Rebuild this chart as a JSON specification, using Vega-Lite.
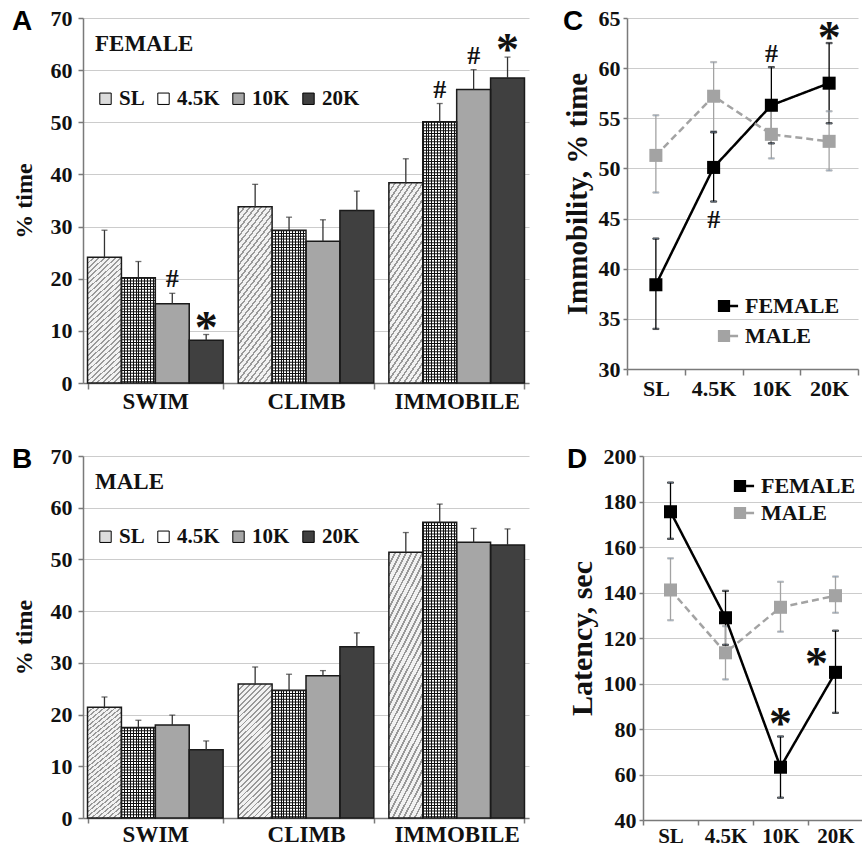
{
  "$schema": "https://vega.github.io/schema/vega-lite/v6.json",
  "background": "#ffffff",
  "padding": {"left": 12, "top": 7, "right": 0, "bottom": 0},
  "config": {
    "font": "Liberation Serif",
    "view": {"stroke": null},
    "axis": {"domainColor": "#7a7a7a", "domainWidth": 1.5, "tickColor": "#7a7a7a", "tickWidth": 1.5, "gridColor": "#cccccc", "gridWidth": 1.2, "labelFont": "Liberation Serif", "labelFontWeight": "bold", "labelColor": "#111111", "labelFontSize": 22, "titleFont": "Liberation Serif", "titleFontWeight": "bold", "titleColor": "#111111", "titleFontSize": 24},
    "legend": {"labelFont": "Liberation Serif", "labelFontWeight": "bold", "labelColor": "#111111", "labelFontSize": 21, "titleFont": "Liberation Serif", "titleFontWeight": "bold", "titleColor": "#111111", "titleFontSize": 23},
    "title": {"font": "Liberation Sans", "fontSize": 28, "fontWeight": "bold", "color": "#000000", "anchor": "start", "frame": "bounds", "baseline": "top", "offset": -29}
  },
  "datasets": {
    "bars": [
      {"sex": "FEMALE", "behavior": "SWIM", "dose": "SL", "value": 24.1, "err": 29.3, "sig": ""},
      {"sex": "FEMALE", "behavior": "SWIM", "dose": "4.5K", "value": 20.2, "err": 23.3, "sig": ""},
      {"sex": "FEMALE", "behavior": "SWIM", "dose": "10K", "value": 15.2, "err": 17.2, "sig": "#"},
      {"sex": "FEMALE", "behavior": "SWIM", "dose": "20K", "value": 8.2, "err": 9.3, "sig": "*"},
      {"sex": "FEMALE", "behavior": "CLIMB", "dose": "SL", "value": 33.8, "err": 38.1, "sig": ""},
      {"sex": "FEMALE", "behavior": "CLIMB", "dose": "4.5K", "value": 29.3, "err": 31.8, "sig": ""},
      {"sex": "FEMALE", "behavior": "CLIMB", "dose": "10K", "value": 27.2, "err": 31.3, "sig": ""},
      {"sex": "FEMALE", "behavior": "CLIMB", "dose": "20K", "value": 33.1, "err": 36.8, "sig": ""},
      {"sex": "FEMALE", "behavior": "IMMOBILE", "dose": "SL", "value": 38.4, "err": 43.0, "sig": ""},
      {"sex": "FEMALE", "behavior": "IMMOBILE", "dose": "4.5K", "value": 50.1, "err": 53.6, "sig": "#"},
      {"sex": "FEMALE", "behavior": "IMMOBILE", "dose": "10K", "value": 56.3, "err": 60.1, "sig": "#"},
      {"sex": "FEMALE", "behavior": "IMMOBILE", "dose": "20K", "value": 58.5, "err": 62.5, "sig": "*"},
      {"sex": "MALE", "behavior": "SWIM", "dose": "SL", "value": 21.4, "err": 23.4, "sig": ""},
      {"sex": "MALE", "behavior": "SWIM", "dose": "4.5K", "value": 17.5, "err": 18.9, "sig": ""},
      {"sex": "MALE", "behavior": "SWIM", "dose": "10K", "value": 18.0, "err": 19.9, "sig": ""},
      {"sex": "MALE", "behavior": "SWIM", "dose": "20K", "value": 13.2, "err": 14.9, "sig": ""},
      {"sex": "MALE", "behavior": "CLIMB", "dose": "SL", "value": 25.9, "err": 29.2, "sig": ""},
      {"sex": "MALE", "behavior": "CLIMB", "dose": "4.5K", "value": 24.7, "err": 27.8, "sig": ""},
      {"sex": "MALE", "behavior": "CLIMB", "dose": "10K", "value": 27.5, "err": 28.5, "sig": ""},
      {"sex": "MALE", "behavior": "CLIMB", "dose": "20K", "value": 33.1, "err": 35.8, "sig": ""},
      {"sex": "MALE", "behavior": "IMMOBILE", "dose": "SL", "value": 51.4, "err": 55.2, "sig": ""},
      {"sex": "MALE", "behavior": "IMMOBILE", "dose": "4.5K", "value": 57.2, "err": 60.7, "sig": ""},
      {"sex": "MALE", "behavior": "IMMOBILE", "dose": "10K", "value": 53.3, "err": 56.0, "sig": ""},
      {"sex": "MALE", "behavior": "IMMOBILE", "dose": "20K", "value": 52.8, "err": 55.9, "sig": ""}
    ],
    "lines": [
      {"panel": "C", "sex": "FEMALE", "dose": "SL", "value": 38.4, "lo": 34.0, "hi": 43.0, "sigAbove": "", "sigBelow": "", "sigLeft": ""},
      {"panel": "C", "sex": "FEMALE", "dose": "4.5K", "value": 50.1, "lo": 46.7, "hi": 53.6, "sigAbove": "", "sigBelow": "#", "sigLeft": ""},
      {"panel": "C", "sex": "FEMALE", "dose": "10K", "value": 56.3, "lo": 52.5, "hi": 60.1, "sigAbove": "#", "sigBelow": "", "sigLeft": ""},
      {"panel": "C", "sex": "FEMALE", "dose": "20K", "value": 58.5, "lo": 54.5, "hi": 62.5, "sigAbove": "*", "sigBelow": "", "sigLeft": ""},
      {"panel": "C", "sex": "MALE", "dose": "SL", "value": 51.3, "lo": 47.6, "hi": 55.3, "sigAbove": "", "sigBelow": "", "sigLeft": ""},
      {"panel": "C", "sex": "MALE", "dose": "4.5K", "value": 57.2, "lo": 53.7, "hi": 60.6, "sigAbove": "", "sigBelow": "", "sigLeft": ""},
      {"panel": "C", "sex": "MALE", "dose": "10K", "value": 53.4, "lo": 51.0, "hi": 55.8, "sigAbove": "", "sigBelow": "", "sigLeft": ""},
      {"panel": "C", "sex": "MALE", "dose": "20K", "value": 52.7, "lo": 49.8, "hi": 55.7, "sigAbove": "", "sigBelow": "", "sigLeft": ""},
      {"panel": "D", "sex": "FEMALE", "dose": "SL", "value": 175.5, "lo": 163.6, "hi": 188.3, "sigAbove": "", "sigBelow": "", "sigLeft": ""},
      {"panel": "D", "sex": "FEMALE", "dose": "4.5K", "value": 128.9, "lo": 117.0, "hi": 140.7, "sigAbove": "", "sigBelow": "", "sigLeft": ""},
      {"panel": "D", "sex": "FEMALE", "dose": "10K", "value": 63.2, "lo": 49.8, "hi": 76.7, "sigAbove": "*", "sigBelow": "", "sigLeft": ""},
      {"panel": "D", "sex": "FEMALE", "dose": "20K", "value": 104.9, "lo": 87.1, "hi": 123.2, "sigAbove": "", "sigBelow": "", "sigLeft": "*"},
      {"panel": "D", "sex": "MALE", "dose": "SL", "value": 141.1, "lo": 127.8, "hi": 155.0, "sigAbove": "", "sigBelow": "", "sigLeft": ""},
      {"panel": "D", "sex": "MALE", "dose": "4.5K", "value": 113.5, "lo": 101.8, "hi": 125.2, "sigAbove": "", "sigBelow": "", "sigLeft": ""},
      {"panel": "D", "sex": "MALE", "dose": "10K", "value": 133.5, "lo": 122.8, "hi": 144.7, "sigAbove": "", "sigBelow": "", "sigLeft": ""},
      {"panel": "D", "sex": "MALE", "dose": "20K", "value": 138.6, "lo": 131.1, "hi": 147.0, "sigAbove": "", "sigBelow": "", "sigLeft": ""}
    ]
  },
  "spacing": 32,
  "resolve": {"scale": {"color": "independent", "fill": "independent", "stroke": "independent", "strokeDash": "independent"}, "legend": {"color": "independent", "fill": "independent"}},
  "vconcat": [
    {
      "spacing": 34,
      "resolve": {"scale": {"color": "independent", "fill": "independent", "stroke": "independent", "strokeDash": "independent"}, "legend": {"color": "independent", "fill": "independent"}},
      "hconcat": [
        {
          "width": 446, "height": 365,
          "title": {"text": "A"},
          "data": {"name": "bars"},
          "transform": [{"filter": "datum.sex === 'FEMALE'"}],
          "encoding": {
            "x": {"field": "behavior", "type": "nominal", "sort": ["SWIM", "CLIMB", "IMMOBILE"], "scale": {"paddingInner": 0.1, "paddingOuter": 0.03}, "axis": {"title": null, "labelAngle": 0, "labelFontSize": 23, "tickBand": "extent", "tickSize": 6, "labelPadding": 1, "grid": false}},
            "xOffset": {"field": "dose", "type": "nominal", "sort": ["SL", "4.5K", "10K", "20K"], "scale": {"paddingInner": 0, "paddingOuter": 0}}
          },
          "layer": [
            {"mark": {"type": "bar"}, "encoding": {
              "y": {"field": "value", "type": "quantitative", "scale": {"domain": [0, 70], "nice": false}, "axis": {"title": "% time", "values": [0, 10, 20, 30, 40, 50, 60, 70], "tickSize": 5, "labelPadding": 6, "titlePadding": 14, "grid": true}},
              "fill": {"field": "dose", "type": "nominal", "sort": ["SL", "4.5K", "10K", "20K"], "scale": {"domain": ["SL", "4.5K", "10K", "20K"], "range": ["#dcdcdc", "#ffffff", "#a6a6a6", "#404040"]},
                "legend": {"title": "FEMALE", "orient": "none", "legendX": 12, "legendY": 15, "direction": "horizontal", "titlePadding": 32, "symbolType": "square", "symbolSize": 130, "symbolStrokeColor": "#000000", "symbolStrokeWidth": 1, "labelOffset": 3, "columnPadding": 8}}
            }},
            {"transform": [{"filter": "datum.dose === 'SL'"}], "mark": {"type": "bar", "fill": {"gradient": "linear", "x1": 0, "y1": 0, "x2": 0.3, "y2": 1.2, "stops": [
        {"offset": 0, "color": "#999999"}, {"offset": 0.011, "color": "#999999"}, {"offset": 0.011, "color": "#f2f2f2"}, {"offset": 0.032, "color": "#f2f2f2"},
        {"offset": 0.032, "color": "#999999"}, {"offset": 0.043, "color": "#999999"}, {"offset": 0.043, "color": "#f2f2f2"}, {"offset": 0.064, "color": "#f2f2f2"},
        {"offset": 0.064, "color": "#999999"}, {"offset": 0.075, "color": "#999999"}, {"offset": 0.075, "color": "#f2f2f2"}, {"offset": 0.096, "color": "#f2f2f2"},
        {"offset": 0.096, "color": "#999999"}, {"offset": 0.107, "color": "#999999"}, {"offset": 0.107, "color": "#f2f2f2"}, {"offset": 0.128, "color": "#f2f2f2"},
        {"offset": 0.128, "color": "#999999"}, {"offset": 0.139, "color": "#999999"}, {"offset": 0.139, "color": "#f2f2f2"}, {"offset": 0.16, "color": "#f2f2f2"},
        {"offset": 0.16, "color": "#999999"}, {"offset": 0.171, "color": "#999999"}, {"offset": 0.171, "color": "#f2f2f2"}, {"offset": 0.192, "color": "#f2f2f2"},
        {"offset": 0.192, "color": "#999999"}, {"offset": 0.203, "color": "#999999"}, {"offset": 0.203, "color": "#f2f2f2"}, {"offset": 0.224, "color": "#f2f2f2"},
        {"offset": 0.224, "color": "#999999"}, {"offset": 0.235, "color": "#999999"}, {"offset": 0.235, "color": "#f2f2f2"}, {"offset": 0.256, "color": "#f2f2f2"},
        {"offset": 0.256, "color": "#999999"}, {"offset": 0.267, "color": "#999999"}, {"offset": 0.267, "color": "#f2f2f2"}, {"offset": 0.288, "color": "#f2f2f2"},
        {"offset": 0.288, "color": "#999999"}, {"offset": 0.299, "color": "#999999"}, {"offset": 0.299, "color": "#f2f2f2"}, {"offset": 0.32, "color": "#f2f2f2"},
        {"offset": 0.32, "color": "#999999"}, {"offset": 0.331, "color": "#999999"}, {"offset": 0.331, "color": "#f2f2f2"}, {"offset": 0.352, "color": "#f2f2f2"},
        {"offset": 0.352, "color": "#999999"}, {"offset": 0.363, "color": "#999999"}, {"offset": 0.363, "color": "#f2f2f2"}, {"offset": 0.384, "color": "#f2f2f2"},
        {"offset": 0.384, "color": "#999999"}, {"offset": 0.395, "color": "#999999"}, {"offset": 0.395, "color": "#f2f2f2"}, {"offset": 0.416, "color": "#f2f2f2"},
        {"offset": 0.416, "color": "#999999"}, {"offset": 0.427, "color": "#999999"}, {"offset": 0.427, "color": "#f2f2f2"}, {"offset": 0.448, "color": "#f2f2f2"},
        {"offset": 0.448, "color": "#999999"}, {"offset": 0.459, "color": "#999999"}, {"offset": 0.459, "color": "#f2f2f2"}, {"offset": 0.48, "color": "#f2f2f2"},
        {"offset": 0.48, "color": "#999999"}, {"offset": 0.491, "color": "#999999"}, {"offset": 0.491, "color": "#f2f2f2"}, {"offset": 0.512, "color": "#f2f2f2"},
        {"offset": 0.512, "color": "#999999"}, {"offset": 0.523, "color": "#999999"}, {"offset": 0.523, "color": "#f2f2f2"}, {"offset": 0.544, "color": "#f2f2f2"},
        {"offset": 0.544, "color": "#999999"}, {"offset": 0.555, "color": "#999999"}, {"offset": 0.555, "color": "#f2f2f2"}, {"offset": 0.576, "color": "#f2f2f2"},
        {"offset": 0.576, "color": "#999999"}, {"offset": 0.587, "color": "#999999"}, {"offset": 0.587, "color": "#f2f2f2"}, {"offset": 0.608, "color": "#f2f2f2"},
        {"offset": 0.608, "color": "#999999"}, {"offset": 0.619, "color": "#999999"}, {"offset": 0.619, "color": "#f2f2f2"}, {"offset": 0.64, "color": "#f2f2f2"},
        {"offset": 0.64, "color": "#999999"}, {"offset": 0.651, "color": "#999999"}, {"offset": 0.651, "color": "#f2f2f2"}, {"offset": 0.672, "color": "#f2f2f2"},
        {"offset": 0.672, "color": "#999999"}, {"offset": 0.683, "color": "#999999"}, {"offset": 0.683, "color": "#f2f2f2"}, {"offset": 0.704, "color": "#f2f2f2"},
        {"offset": 0.704, "color": "#999999"}, {"offset": 0.715, "color": "#999999"}, {"offset": 0.715, "color": "#f2f2f2"}, {"offset": 0.736, "color": "#f2f2f2"},
        {"offset": 0.736, "color": "#999999"}, {"offset": 0.747, "color": "#999999"}, {"offset": 0.747, "color": "#f2f2f2"}, {"offset": 0.768, "color": "#f2f2f2"},
        {"offset": 0.768, "color": "#999999"}, {"offset": 0.779, "color": "#999999"}, {"offset": 0.779, "color": "#f2f2f2"}, {"offset": 0.8, "color": "#f2f2f2"},
        {"offset": 0.8, "color": "#999999"}, {"offset": 0.811, "color": "#999999"}, {"offset": 0.811, "color": "#f2f2f2"}, {"offset": 0.832, "color": "#f2f2f2"},
        {"offset": 0.832, "color": "#999999"}, {"offset": 0.843, "color": "#999999"}, {"offset": 0.843, "color": "#f2f2f2"}, {"offset": 0.864, "color": "#f2f2f2"},
        {"offset": 0.864, "color": "#999999"}, {"offset": 0.875, "color": "#999999"}, {"offset": 0.875, "color": "#f2f2f2"}, {"offset": 0.896, "color": "#f2f2f2"},
        {"offset": 0.896, "color": "#999999"}, {"offset": 0.907, "color": "#999999"}, {"offset": 0.907, "color": "#f2f2f2"}, {"offset": 0.928, "color": "#f2f2f2"},
        {"offset": 0.928, "color": "#999999"}, {"offset": 0.939, "color": "#999999"}, {"offset": 0.939, "color": "#f2f2f2"}, {"offset": 0.96, "color": "#f2f2f2"},
        {"offset": 0.96, "color": "#999999"}, {"offset": 0.971, "color": "#999999"}, {"offset": 0.971, "color": "#f2f2f2"}, {"offset": 0.992, "color": "#f2f2f2"},
        {"offset": 0.992, "color": "#999999"}, {"offset": 1, "color": "#999999"}
            ]}}, "encoding": {"y": {"field": "value", "type": "quantitative"}}},
            {"transform": [{"filter": "datum.dose === '4.5K'"}], "mark": {"type": "bar", "fill": {"gradient": "linear", "x1": 0, "y1": 0, "x2": 1, "y2": 0, "stops": [
        {"offset": 0, "color": "#111111"}, {"offset": 0.03, "color": "#111111"}, {"offset": 0.03, "color": "#ffffff"}, {"offset": 0.0833, "color": "#ffffff"},
        {"offset": 0.0833, "color": "#111111"}, {"offset": 0.1133, "color": "#111111"}, {"offset": 0.1133, "color": "#ffffff"}, {"offset": 0.1667, "color": "#ffffff"},
        {"offset": 0.1667, "color": "#111111"}, {"offset": 0.1967, "color": "#111111"}, {"offset": 0.1967, "color": "#ffffff"}, {"offset": 0.25, "color": "#ffffff"},
        {"offset": 0.25, "color": "#111111"}, {"offset": 0.28, "color": "#111111"}, {"offset": 0.28, "color": "#ffffff"}, {"offset": 0.3333, "color": "#ffffff"},
        {"offset": 0.3333, "color": "#111111"}, {"offset": 0.3633, "color": "#111111"}, {"offset": 0.3633, "color": "#ffffff"}, {"offset": 0.4167, "color": "#ffffff"},
        {"offset": 0.4167, "color": "#111111"}, {"offset": 0.4467, "color": "#111111"}, {"offset": 0.4467, "color": "#ffffff"}, {"offset": 0.5, "color": "#ffffff"},
        {"offset": 0.5, "color": "#111111"}, {"offset": 0.53, "color": "#111111"}, {"offset": 0.53, "color": "#ffffff"}, {"offset": 0.5833, "color": "#ffffff"},
        {"offset": 0.5833, "color": "#111111"}, {"offset": 0.6133, "color": "#111111"}, {"offset": 0.6133, "color": "#ffffff"}, {"offset": 0.6667, "color": "#ffffff"},
        {"offset": 0.6667, "color": "#111111"}, {"offset": 0.6967, "color": "#111111"}, {"offset": 0.6967, "color": "#ffffff"}, {"offset": 0.75, "color": "#ffffff"},
        {"offset": 0.75, "color": "#111111"}, {"offset": 0.78, "color": "#111111"}, {"offset": 0.78, "color": "#ffffff"}, {"offset": 0.8333, "color": "#ffffff"},
        {"offset": 0.8333, "color": "#111111"}, {"offset": 0.8633, "color": "#111111"}, {"offset": 0.8633, "color": "#ffffff"}, {"offset": 0.9167, "color": "#ffffff"},
        {"offset": 0.9167, "color": "#111111"}, {"offset": 0.9467, "color": "#111111"}, {"offset": 0.9467, "color": "#ffffff"}, {"offset": 1, "color": "#ffffff"}
            ]}}, "encoding": {"y": {"field": "value", "type": "quantitative"}}},
            {"transform": [{"filter": "datum.dose === '4.5K'"}], "mark": {"type": "rule", "strokeWidth": 33, "strokeDash": [1, 1.8], "color": "#111111"}, "encoding": {"y": {"field": "value", "type": "quantitative"}, "y2": {"datum": 0}}},
            {"mark": {"type": "bar", "fillOpacity": 0, "stroke": "#1a1a1a", "strokeWidth": 1.5}, "encoding": {"y": {"field": "value", "type": "quantitative"}}},
            {"mark": {"type": "rule", "strokeWidth": 1.3, "color": "#333333"}, "encoding": {"y": {"field": "value", "type": "quantitative"}, "y2": {"field": "err"}}},
            {"mark": {"type": "tick", "orient": "horizontal", "thickness": 1.3, "size": 6, "color": "#333333"}, "encoding": {"y": {"field": "err", "type": "quantitative"}}},
            {"transform": [{"filter": "datum.sig === '#'"}], "mark": {"type": "text", "fontSize": 26, "fontWeight": "bold", "font": "Liberation Serif", "color": "#111111", "baseline": "alphabetic", "dy": -6}, "encoding": {"y": {"field": "err", "type": "quantitative"}, "text": {"field": "sig"}}},
            {"transform": [{"filter": "datum.sig === '*'"}], "mark": {"type": "text", "fontSize": 46, "fontWeight": "bold", "font": "Liberation Serif", "color": "#111111", "baseline": "alphabetic", "dy": 8}, "encoding": {"y": {"field": "err", "type": "quantitative"}, "text": {"field": "sig"}}}
          ]
        },
        {
          "width": 231, "height": 351,
          "title": {"text": "C"},
          "data": {"name": "lines"},
          "transform": [{"filter": "datum.panel === 'C'"}],
          "encoding": {
            "x": {"field": "dose", "type": "ordinal", "sort": ["SL", "4.5K", "10K", "20K"], "scale": {"type": "band", "paddingInner": 0, "paddingOuter": 0}, "axis": {"title": null, "labelAngle": 0, "labelFontSize": 22, "tickBand": "extent", "tickSize": 6, "labelPadding": 3, "grid": false}}
          },
          "layer": [
            {"mark": {"type": "rule", "strokeWidth": 1.3}, "encoding": {"y": {"field": "lo", "type": "quantitative", "scale": {"domain": [30, 65], "nice": false}, "axis": {"title": "Immobility, % time", "titleFontSize": 29, "values": [30, 35, 40, 45, 50, 55, 60, 65], "tickSize": 4, "labelPadding": 3, "titlePadding": 6, "grid": true}}, "y2": {"field": "hi"}, "stroke": {"field": "sex", "type": "nominal", "scale": {"range": ["#000000", "#a3a3a3"]}, "legend": null}}},
            {"mark": {"type": "tick", "orient": "horizontal", "thickness": 1.3, "size": 6}, "encoding": {"y": {"field": "lo", "type": "quantitative"}, "stroke": {"field": "sex", "type": "nominal", "legend": null}}},
            {"mark": {"type": "tick", "orient": "horizontal", "thickness": 1.3, "size": 6}, "encoding": {"y": {"field": "hi", "type": "quantitative"}, "stroke": {"field": "sex", "type": "nominal", "legend": null}}},
            {"mark": {"type": "line", "strokeWidth": 2.5}, "encoding": {"y": {"field": "value", "type": "quantitative"}, "stroke": {"field": "sex", "type": "nominal", "legend": null}, "strokeDash": {"field": "sex", "type": "nominal", "scale": {"range": [[1, 0], [7, 4]]}, "legend": null}}},
            {"mark": {"type": "point", "shape": "square", "filled": true, "size": 170, "opacity": 1}, "encoding": {"y": {"field": "value", "type": "quantitative"},
              "color": {"field": "sex", "type": "nominal", "scale": {"domain": ["FEMALE", "MALE"], "range": ["#000000", "#a3a3a3"]}, "legend": {"title": null, "orient": "none", "legendX": 86, "legendY": 277, "symbolType": "M-1,-1L1,-1L1,1L-1,1Z M1,-0.2L2.3,-0.2L2.3,0.2L1,0.2Z", "symbolSize": 150, "labelOffset": 10, "rowPadding": 8, "labelFont": "Liberation Serif", "labelFontWeight": "bold", "labelFontSize": 22, "labelColor": "#111111"}}}},
            {"transform": [{"filter": "datum.sigAbove === '#'"}], "mark": {"type": "text", "fontSize": 26, "fontWeight": "bold", "font": "Liberation Serif", "color": "#111111", "baseline": "alphabetic", "dy": -5}, "encoding": {"y": {"field": "hi", "type": "quantitative"}, "text": {"field": "sigAbove"}}},
            {"transform": [{"filter": "datum.sigAbove === '*'"}], "mark": {"type": "text", "fontSize": 46, "fontWeight": "bold", "font": "Liberation Serif", "color": "#111111", "baseline": "alphabetic", "dy": 10}, "encoding": {"y": {"field": "hi", "type": "quantitative"}, "text": {"field": "sigAbove"}}},
            {"transform": [{"filter": "datum.sigBelow !== ''"}], "mark": {"type": "text", "fontSize": 26, "fontWeight": "bold", "font": "Liberation Serif", "color": "#111111", "baseline": "top", "dy": 5}, "encoding": {"y": {"field": "lo", "type": "quantitative"}, "text": {"field": "sigBelow"}}}
          ]
        }
      ]
    },
    {
      "spacing": 38,
      "resolve": {"scale": {"color": "independent", "fill": "independent", "stroke": "independent", "strokeDash": "independent"}, "legend": {"color": "independent", "fill": "independent"}},
      "hconcat": [
        {
          "width": 446, "height": 362,
          "title": {"text": "B"},
          "data": {"name": "bars"},
          "transform": [{"filter": "datum.sex === 'MALE'"}],
          "encoding": {
            "x": {"field": "behavior", "type": "nominal", "sort": ["SWIM", "CLIMB", "IMMOBILE"], "scale": {"paddingInner": 0.1, "paddingOuter": 0.03}, "axis": {"title": null, "labelAngle": 0, "labelFontSize": 23, "tickBand": "extent", "tickSize": 5, "labelPadding": 0, "grid": false}},
            "xOffset": {"field": "dose", "type": "nominal", "sort": ["SL", "4.5K", "10K", "20K"], "scale": {"paddingInner": 0, "paddingOuter": 0}}
          },
          "layer": [
            {"mark": {"type": "bar"}, "encoding": {
              "y": {"field": "value", "type": "quantitative", "scale": {"domain": [0, 70], "nice": false}, "axis": {"title": "% time", "values": [0, 10, 20, 30, 40, 50, 60, 70], "tickSize": 5, "labelPadding": 6, "titlePadding": 14, "grid": true}},
              "fill": {"field": "dose", "type": "nominal", "sort": ["SL", "4.5K", "10K", "20K"], "scale": {"domain": ["SL", "4.5K", "10K", "20K"], "range": ["#dcdcdc", "#ffffff", "#a6a6a6", "#404040"]},
                "legend": {"title": "MALE", "orient": "none", "legendX": 12, "legendY": 15, "direction": "horizontal", "titlePadding": 32, "symbolType": "square", "symbolSize": 130, "symbolStrokeColor": "#000000", "symbolStrokeWidth": 1, "labelOffset": 3, "columnPadding": 8}}
            }},
            {"transform": [{"filter": "datum.dose === 'SL'"}], "mark": {"type": "bar", "fill": {"gradient": "linear", "x1": 0, "y1": 0, "x2": 0.3, "y2": 1.2, "stops": [
        {"offset": 0, "color": "#999999"}, {"offset": 0.011, "color": "#999999"}, {"offset": 0.011, "color": "#f2f2f2"}, {"offset": 0.032, "color": "#f2f2f2"},
        {"offset": 0.032, "color": "#999999"}, {"offset": 0.043, "color": "#999999"}, {"offset": 0.043, "color": "#f2f2f2"}, {"offset": 0.064, "color": "#f2f2f2"},
        {"offset": 0.064, "color": "#999999"}, {"offset": 0.075, "color": "#999999"}, {"offset": 0.075, "color": "#f2f2f2"}, {"offset": 0.096, "color": "#f2f2f2"},
        {"offset": 0.096, "color": "#999999"}, {"offset": 0.107, "color": "#999999"}, {"offset": 0.107, "color": "#f2f2f2"}, {"offset": 0.128, "color": "#f2f2f2"},
        {"offset": 0.128, "color": "#999999"}, {"offset": 0.139, "color": "#999999"}, {"offset": 0.139, "color": "#f2f2f2"}, {"offset": 0.16, "color": "#f2f2f2"},
        {"offset": 0.16, "color": "#999999"}, {"offset": 0.171, "color": "#999999"}, {"offset": 0.171, "color": "#f2f2f2"}, {"offset": 0.192, "color": "#f2f2f2"},
        {"offset": 0.192, "color": "#999999"}, {"offset": 0.203, "color": "#999999"}, {"offset": 0.203, "color": "#f2f2f2"}, {"offset": 0.224, "color": "#f2f2f2"},
        {"offset": 0.224, "color": "#999999"}, {"offset": 0.235, "color": "#999999"}, {"offset": 0.235, "color": "#f2f2f2"}, {"offset": 0.256, "color": "#f2f2f2"},
        {"offset": 0.256, "color": "#999999"}, {"offset": 0.267, "color": "#999999"}, {"offset": 0.267, "color": "#f2f2f2"}, {"offset": 0.288, "color": "#f2f2f2"},
        {"offset": 0.288, "color": "#999999"}, {"offset": 0.299, "color": "#999999"}, {"offset": 0.299, "color": "#f2f2f2"}, {"offset": 0.32, "color": "#f2f2f2"},
        {"offset": 0.32, "color": "#999999"}, {"offset": 0.331, "color": "#999999"}, {"offset": 0.331, "color": "#f2f2f2"}, {"offset": 0.352, "color": "#f2f2f2"},
        {"offset": 0.352, "color": "#999999"}, {"offset": 0.363, "color": "#999999"}, {"offset": 0.363, "color": "#f2f2f2"}, {"offset": 0.384, "color": "#f2f2f2"},
        {"offset": 0.384, "color": "#999999"}, {"offset": 0.395, "color": "#999999"}, {"offset": 0.395, "color": "#f2f2f2"}, {"offset": 0.416, "color": "#f2f2f2"},
        {"offset": 0.416, "color": "#999999"}, {"offset": 0.427, "color": "#999999"}, {"offset": 0.427, "color": "#f2f2f2"}, {"offset": 0.448, "color": "#f2f2f2"},
        {"offset": 0.448, "color": "#999999"}, {"offset": 0.459, "color": "#999999"}, {"offset": 0.459, "color": "#f2f2f2"}, {"offset": 0.48, "color": "#f2f2f2"},
        {"offset": 0.48, "color": "#999999"}, {"offset": 0.491, "color": "#999999"}, {"offset": 0.491, "color": "#f2f2f2"}, {"offset": 0.512, "color": "#f2f2f2"},
        {"offset": 0.512, "color": "#999999"}, {"offset": 0.523, "color": "#999999"}, {"offset": 0.523, "color": "#f2f2f2"}, {"offset": 0.544, "color": "#f2f2f2"},
        {"offset": 0.544, "color": "#999999"}, {"offset": 0.555, "color": "#999999"}, {"offset": 0.555, "color": "#f2f2f2"}, {"offset": 0.576, "color": "#f2f2f2"},
        {"offset": 0.576, "color": "#999999"}, {"offset": 0.587, "color": "#999999"}, {"offset": 0.587, "color": "#f2f2f2"}, {"offset": 0.608, "color": "#f2f2f2"},
        {"offset": 0.608, "color": "#999999"}, {"offset": 0.619, "color": "#999999"}, {"offset": 0.619, "color": "#f2f2f2"}, {"offset": 0.64, "color": "#f2f2f2"},
        {"offset": 0.64, "color": "#999999"}, {"offset": 0.651, "color": "#999999"}, {"offset": 0.651, "color": "#f2f2f2"}, {"offset": 0.672, "color": "#f2f2f2"},
        {"offset": 0.672, "color": "#999999"}, {"offset": 0.683, "color": "#999999"}, {"offset": 0.683, "color": "#f2f2f2"}, {"offset": 0.704, "color": "#f2f2f2"},
        {"offset": 0.704, "color": "#999999"}, {"offset": 0.715, "color": "#999999"}, {"offset": 0.715, "color": "#f2f2f2"}, {"offset": 0.736, "color": "#f2f2f2"},
        {"offset": 0.736, "color": "#999999"}, {"offset": 0.747, "color": "#999999"}, {"offset": 0.747, "color": "#f2f2f2"}, {"offset": 0.768, "color": "#f2f2f2"},
        {"offset": 0.768, "color": "#999999"}, {"offset": 0.779, "color": "#999999"}, {"offset": 0.779, "color": "#f2f2f2"}, {"offset": 0.8, "color": "#f2f2f2"},
        {"offset": 0.8, "color": "#999999"}, {"offset": 0.811, "color": "#999999"}, {"offset": 0.811, "color": "#f2f2f2"}, {"offset": 0.832, "color": "#f2f2f2"},
        {"offset": 0.832, "color": "#999999"}, {"offset": 0.843, "color": "#999999"}, {"offset": 0.843, "color": "#f2f2f2"}, {"offset": 0.864, "color": "#f2f2f2"},
        {"offset": 0.864, "color": "#999999"}, {"offset": 0.875, "color": "#999999"}, {"offset": 0.875, "color": "#f2f2f2"}, {"offset": 0.896, "color": "#f2f2f2"},
        {"offset": 0.896, "color": "#999999"}, {"offset": 0.907, "color": "#999999"}, {"offset": 0.907, "color": "#f2f2f2"}, {"offset": 0.928, "color": "#f2f2f2"},
        {"offset": 0.928, "color": "#999999"}, {"offset": 0.939, "color": "#999999"}, {"offset": 0.939, "color": "#f2f2f2"}, {"offset": 0.96, "color": "#f2f2f2"},
        {"offset": 0.96, "color": "#999999"}, {"offset": 0.971, "color": "#999999"}, {"offset": 0.971, "color": "#f2f2f2"}, {"offset": 0.992, "color": "#f2f2f2"},
        {"offset": 0.992, "color": "#999999"}, {"offset": 1, "color": "#999999"}
            ]}}, "encoding": {"y": {"field": "value", "type": "quantitative"}}},
            {"transform": [{"filter": "datum.dose === '4.5K'"}], "mark": {"type": "bar", "fill": {"gradient": "linear", "x1": 0, "y1": 0, "x2": 1, "y2": 0, "stops": [
        {"offset": 0, "color": "#111111"}, {"offset": 0.03, "color": "#111111"}, {"offset": 0.03, "color": "#ffffff"}, {"offset": 0.0833, "color": "#ffffff"},
        {"offset": 0.0833, "color": "#111111"}, {"offset": 0.1133, "color": "#111111"}, {"offset": 0.1133, "color": "#ffffff"}, {"offset": 0.1667, "color": "#ffffff"},
        {"offset": 0.1667, "color": "#111111"}, {"offset": 0.1967, "color": "#111111"}, {"offset": 0.1967, "color": "#ffffff"}, {"offset": 0.25, "color": "#ffffff"},
        {"offset": 0.25, "color": "#111111"}, {"offset": 0.28, "color": "#111111"}, {"offset": 0.28, "color": "#ffffff"}, {"offset": 0.3333, "color": "#ffffff"},
        {"offset": 0.3333, "color": "#111111"}, {"offset": 0.3633, "color": "#111111"}, {"offset": 0.3633, "color": "#ffffff"}, {"offset": 0.4167, "color": "#ffffff"},
        {"offset": 0.4167, "color": "#111111"}, {"offset": 0.4467, "color": "#111111"}, {"offset": 0.4467, "color": "#ffffff"}, {"offset": 0.5, "color": "#ffffff"},
        {"offset": 0.5, "color": "#111111"}, {"offset": 0.53, "color": "#111111"}, {"offset": 0.53, "color": "#ffffff"}, {"offset": 0.5833, "color": "#ffffff"},
        {"offset": 0.5833, "color": "#111111"}, {"offset": 0.6133, "color": "#111111"}, {"offset": 0.6133, "color": "#ffffff"}, {"offset": 0.6667, "color": "#ffffff"},
        {"offset": 0.6667, "color": "#111111"}, {"offset": 0.6967, "color": "#111111"}, {"offset": 0.6967, "color": "#ffffff"}, {"offset": 0.75, "color": "#ffffff"},
        {"offset": 0.75, "color": "#111111"}, {"offset": 0.78, "color": "#111111"}, {"offset": 0.78, "color": "#ffffff"}, {"offset": 0.8333, "color": "#ffffff"},
        {"offset": 0.8333, "color": "#111111"}, {"offset": 0.8633, "color": "#111111"}, {"offset": 0.8633, "color": "#ffffff"}, {"offset": 0.9167, "color": "#ffffff"},
        {"offset": 0.9167, "color": "#111111"}, {"offset": 0.9467, "color": "#111111"}, {"offset": 0.9467, "color": "#ffffff"}, {"offset": 1, "color": "#ffffff"}
            ]}}, "encoding": {"y": {"field": "value", "type": "quantitative"}}},
            {"transform": [{"filter": "datum.dose === '4.5K'"}], "mark": {"type": "rule", "strokeWidth": 33, "strokeDash": [1, 1.8], "color": "#111111"}, "encoding": {"y": {"field": "value", "type": "quantitative"}, "y2": {"datum": 0}}},
            {"mark": {"type": "bar", "fillOpacity": 0, "stroke": "#1a1a1a", "strokeWidth": 1.5}, "encoding": {"y": {"field": "value", "type": "quantitative"}}},
            {"mark": {"type": "rule", "strokeWidth": 1.3, "color": "#333333"}, "encoding": {"y": {"field": "value", "type": "quantitative"}, "y2": {"field": "err"}}},
            {"mark": {"type": "tick", "orient": "horizontal", "thickness": 1.3, "size": 6, "color": "#333333"}, "encoding": {"y": {"field": "err", "type": "quantitative"}}}
          ]
        },
        {
          "width": 220, "height": 364,
          "title": {"text": "D"},
          "data": {"name": "lines"},
          "transform": [{"filter": "datum.panel === 'D'"}],
          "encoding": {
            "x": {"field": "dose", "type": "ordinal", "sort": ["SL", "4.5K", "10K", "20K"], "scale": {"type": "band", "paddingInner": 0, "paddingOuter": 0}, "axis": {"title": null, "labelAngle": 0, "labelFontSize": 21, "tickBand": "extent", "tickSize": 5, "labelPadding": 0, "grid": false}}
          },
          "layer": [
            {"mark": {"type": "rule", "strokeWidth": 1.3}, "encoding": {"y": {"field": "lo", "type": "quantitative", "scale": {"domain": [40, 200], "nice": false}, "axis": {"title": "Latency, sec", "titleFontSize": 30, "values": [40, 60, 80, 100, 120, 140, 160, 180, 200], "tickSize": 4, "labelPadding": 3, "titlePadding": 6, "grid": true}}, "y2": {"field": "hi"}, "stroke": {"field": "sex", "type": "nominal", "scale": {"range": ["#000000", "#a3a3a3"]}, "legend": null}}},
            {"mark": {"type": "tick", "orient": "horizontal", "thickness": 1.3, "size": 6}, "encoding": {"y": {"field": "lo", "type": "quantitative"}, "stroke": {"field": "sex", "type": "nominal", "legend": null}}},
            {"mark": {"type": "tick", "orient": "horizontal", "thickness": 1.3, "size": 6}, "encoding": {"y": {"field": "hi", "type": "quantitative"}, "stroke": {"field": "sex", "type": "nominal", "legend": null}}},
            {"mark": {"type": "line", "strokeWidth": 2.5}, "encoding": {"y": {"field": "value", "type": "quantitative"}, "stroke": {"field": "sex", "type": "nominal", "legend": null}, "strokeDash": {"field": "sex", "type": "nominal", "scale": {"range": [[1, 0], [7, 4]]}, "legend": null}}},
            {"mark": {"type": "point", "shape": "square", "filled": true, "size": 170, "opacity": 1}, "encoding": {"y": {"field": "value", "type": "quantitative"},
              "color": {"field": "sex", "type": "nominal", "scale": {"domain": ["FEMALE", "MALE"], "range": ["#000000", "#a3a3a3"]}, "legend": {"title": null, "orient": "none", "legendX": 86, "legendY": 19, "symbolType": "M-1,-1L1,-1L1,1L-1,1Z M1,-0.2L2.3,-0.2L2.3,0.2L1,0.2Z", "symbolSize": 150, "labelOffset": 10, "rowPadding": 5, "labelFont": "Liberation Serif", "labelFontWeight": "bold", "labelFontSize": 22, "labelColor": "#111111"}}}},
            {"transform": [{"filter": "datum.sigAbove === '*'"}], "mark": {"type": "text", "fontSize": 46, "fontWeight": "bold", "font": "Liberation Serif", "color": "#111111", "baseline": "alphabetic", "dy": 2}, "encoding": {"y": {"field": "hi", "type": "quantitative"}, "text": {"field": "sigAbove"}}},
            {"transform": [{"filter": "datum.sigLeft === '*'"}], "mark": {"type": "text", "fontSize": 46, "fontWeight": "bold", "font": "Liberation Serif", "color": "#111111", "baseline": "alphabetic", "dy": 7, "dx": -19}, "encoding": {"y": {"field": "value", "type": "quantitative"}, "text": {"field": "sigLeft"}}}
          ]
        }
      ]
    }
  ]
}
